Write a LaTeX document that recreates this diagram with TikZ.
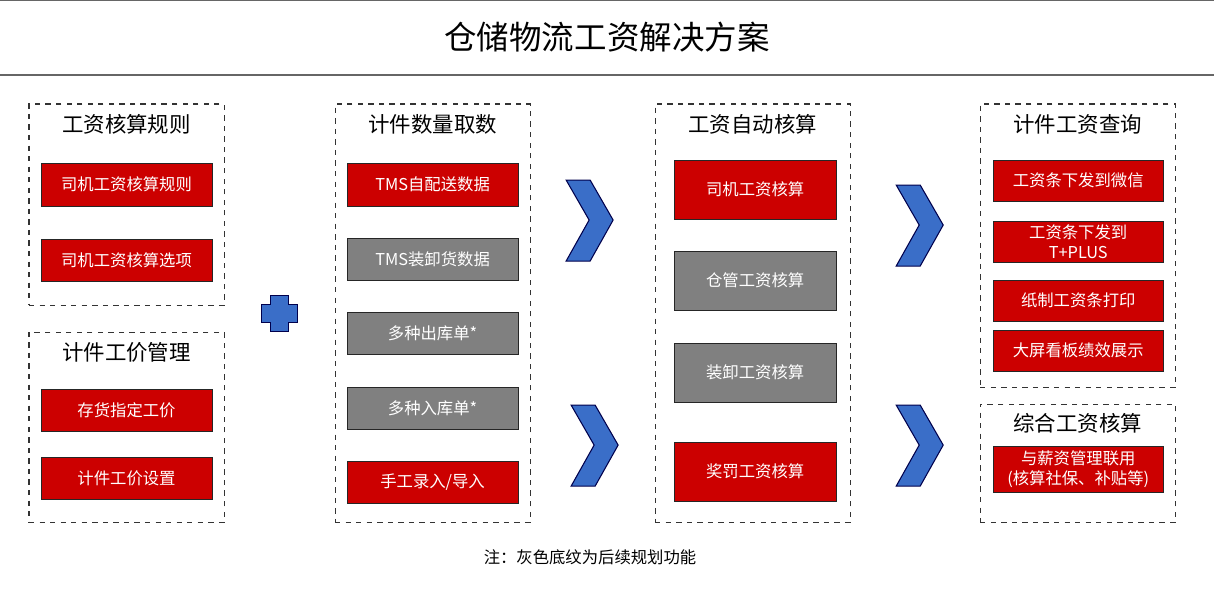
\documentclass[tikz,border=0pt]{standalone}
\usepackage{fontspec}
\setmainfont{Noto Sans CJK SC}
\usetikzlibrary{positioning}
\definecolor{boxred}{RGB}{204,0,0}
\definecolor{boxgray}{RGB}{128,128,128}
\definecolor{chevblue}{RGB}{58,110,200}
\tikzset{
  grp/.style = {draw = black!80, dashed, line width = 0.6pt, inner sep = 0pt},
  grptitle/.style = {font = \fontsize{12.2}{15}\selectfont},
  item/.style = {draw = black!85, line width = 0.5pt, text = white, align = center, font = \fontsize{9.3}{11}\selectfont, inner sep = 0pt},
  redbox/.style = {item, fill = boxred},
  graybox/.style = {item, fill = boxgray},
  chev/.style = {fill = chevblue, draw = black!70!blue, line width = 0.6pt}
}
% box from pixel corners: name, style, x1, y1, x2, y2, text
\newcommand\pbox[7]{\node [#2, minimum width = {(#5-#3)*0.02cm}, minimum height = {(#6-#4)*0.02cm}] (#1) at ({(#3+#5)/2*0.02},{-(#4+#6)/2*0.02}) {#7};}
\newcommand\chevron[2]{\draw [chev] ({(#1-24)*0.02},{-(#2-40)*0.02}) -- ({#1*0.02},{-(#2-40)*0.02}) -- ({(#1+23)*0.02},{-#2*0.02}) -- ({#1*0.02},{-(#2+41)*0.02}) -- ({(#1-24)*0.02},{-(#2+41)*0.02}) -- ({(#1-1)*0.02},{-#2*0.02}) -- cycle;}
\begin{document}
\begin{tikzpicture}
\useasboundingbox (0,0) rectangle (24.28,-11.9);
% title band
\draw [black!60, line width = 0.6pt] (0,-0.01) -- (24.28,-0.01);
\draw [black!60, line width = 0.6pt] (0,-1.5) -- (24.28,-1.5);
\node [font = \fontsize{18.5}{22}\selectfont] (title) at (12.14,-0.74) {仓储物流工资解决方案};
% groups
\pbox{rule}{grp}{29}{104}{224}{305}{}
\node [grptitle, below = 0.1 of rule.north] (ruleT) {工资核算规则};
\pbox{r1}{redbox}{41}{163}{212}{206}{司机工资核算规则}
\pbox{r2}{redbox}{41}{239}{212}{281}{司机工资核算选项}
\pbox{price}{grp}{29}{332}{224}{522}{}
\node [grptitle, below = 0.1 of price.north] (priceT) {计件工价管理};
\pbox{p1}{redbox}{41}{389}{212}{431}{存货指定工价}
\pbox{p2}{redbox}{41}{457}{212}{499}{计件工价设置}
% plus
\draw [draw = black!70!blue, fill = chevblue] (5.22,-6.09) -- (5.4,-6.09) -- (5.4,-5.91) -- (5.76,-5.91) -- (5.76,-6.09) -- (5.94,-6.09) -- (5.94,-6.45) -- (5.76,-6.45) -- (5.76,-6.63) -- (5.4,-6.63) -- (5.4,-6.45) -- (5.22,-6.45) -- cycle;
\pbox{qty}{grp}{335}{104}{530}{522}{}
\node [grptitle, below = 0.1 of qty.north] (qtyT) {计件数量取数};
\pbox{q1}{redbox}{347}{163}{518}{206}{TMS自配送数据}
\pbox{q2}{graybox}{347}{238}{518}{280}{TMS装卸货数据}
\pbox{q3}{graybox}{347}{312}{518}{354}{多种出库单*}
\pbox{q4}{graybox}{347}{387}{518}{429}{多种入库单*}
\pbox{q5}{redbox}{347}{461}{518}{503}{手工录入/导入}
\chevron{590}{220}
\chevron{595}{445}
\pbox{calc}{grp}{655}{104}{850}{522}{}
\node [grptitle, below = 0.1 of calc.north] (calcT) {工资自动核算};
\pbox{c1}{redbox}{674}{160}{836}{219}{司机工资核算}
\pbox{c2}{graybox}{674}{251}{836}{310}{仓管工资核算}
\pbox{c3}{graybox}{674}{343}{836}{402}{装卸工资核算}
\pbox{c4}{redbox}{674}{442}{836}{501}{奖罚工资核算}
\chevron{920}{225}
\chevron{920}{445}
\pbox{query}{grp}{980}{104}{1175}{387}{}
\node [grptitle, below = 0.1 of query.north] (queryT) {计件工资查询};
\pbox{w1}{redbox}{993}{160}{1163}{201}{工资条下发到微信}
\pbox{w2}{redbox}{993}{221}{1163}{262}{工资条下发到\\T+PLUS}
\pbox{w3}{redbox}{993}{280}{1163}{321}{纸制工资条打印}
\pbox{w4}{redbox}{993}{330}{1163}{371}{大屏看板绩效展示}
\pbox{total}{grp}{980}{404}{1175}{522}{}
\node [grptitle, below = 0.08 of total.north] (totalT) {综合工资核算};
\pbox{t1}{redbox}{993}{446}{1163}{492}{与薪资管理联用\\(核算社保、补贴等)}
% note
\node [font = \fontsize{9.3}{11}\selectfont] (note) at (11.8,-11.14) {注：灰色底纹为后续规划功能};
\end{tikzpicture}
\end{document}
